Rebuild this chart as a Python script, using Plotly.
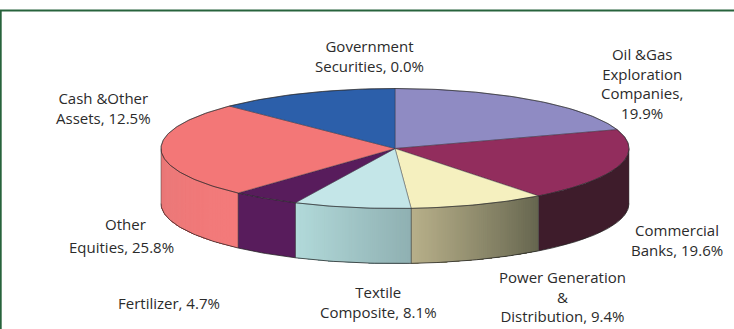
import math
import plotly.graph_objects as go

# Portfolio allocation, clockwise from twelve o'clock
sector_labels = [
    "Government<br>Securities, 0.0%",
    "Oil &Gas<br>Exploration<br>Companies,<br>19.9%",
    "Commercial<br>Banks, 19.6%",
    "Power Generation<br>&<br>Distribution, 9.4%",
    "Textile<br>Composite, 8.1%",
    "Fertilizer, 4.7%",
    "Other",
    "Equities, 25.8%",
    "Cash &Other<br>Assets, 12.5%",
]
sector_values = [0.0, 19.9, 19.6, 9.4, 8.1, 4.7, 25.8, 12.5]

label_x = [369, 642, 677, 562, 378, 169, 125, 121, 103]
label_y = [56, 83, 240, 296, 302, 303, 224, 247, 108]

top_colors = ["#2c5faa", "#8f8bc3", "#922d5d", "#f5f0bf", "#c4e6e8", "#581c5c", "#f37777", "#2c5faa"]
# Side wall colour at the left and right end of each wedge's visible wall
side_colors = [
    ("#2c5faa", "#2c5faa"),
    ("#8f8bc3", "#8f8bc3"),
    ("#3e1c2b", "#3e1c2b"),
    ("#b8b08a", "#66664f"),
    ("#b2dada", "#8fb0b2"),
    ("#581c5c", "#581c5c"),
    ("#e87878", "#f47a7a"),
    ("#2c5faa", "#2c5faa"),
]

CX, CY, RX, RY, DEPTH = 395, 148.5, 234, 60, 55
EDGE = "rgba(35,35,35,0.75)"


def rim(deg):
    t = math.radians(deg)
    return CX + RX * math.sin(t), CY - RY * math.cos(t)


def arc(a, b, step=1.0):
    n = max(2, int(abs(b - a) / step) + 1)
    return [rim(a + (b - a) * i / (n - 1)) for i in range(n)]


def mix(c1, c2, f):
    p = [int(c1[i:i + 2], 16) for i in (1, 3, 5)]
    q = [int(c2[i:i + 2], 16) for i in (1, 3, 5)]
    return "rgb({},{},{})".format(*[round(u + (v - u) * f) for u, v in zip(p, q)])


def polygon(points, fill, line_color=None, line_width=0.0):
    return go.Scatter(
        x=[p[0] for p in points], y=[p[1] for p in points],
        mode="lines", fill="toself", fillcolor=fill,
        line=dict(color=line_color or fill, width=line_width),
        hoverinfo="skip", showlegend=False,
    )


def stroke(points, color, width):
    return go.Scatter(
        x=[p[0] for p in points], y=[p[1] for p in points], mode="lines",
        line=dict(color=color, width=width), hoverinfo="skip", showlegend=False,
    )


fig = go.Figure()

# Wedge spans in degrees
spans = []
start = 0.0
for v in sector_values:
    end = start + v * 3.6
    spans.append((start, end))
    start = end

# Front wall: only the part of each wedge between 90 and 270 degrees shows
for (a, b), (c_left, c_right) in zip(spans, side_colors):
    lo, hi = max(a, 90), min(b, 270)
    if hi <= lo:
        continue
    # Flat walls take one band; shaded walls are painted as overlapping bands
    n = 1 if c_left == c_right else max(4, int((hi - lo) * 2))
    for i in range(n):
        seg = arc(lo + (hi - lo) * i / n, hi, 0.5)
        pts = seg + [(x, y + DEPTH) for x, y in reversed(seg)]
        fig.add_trace(polygon(pts, mix(c_right, c_left, (i + 0.5) / n)))
    seg = arc(lo, hi, 1.0)
    for x, y in (seg[0], seg[-1]):
        fig.add_trace(stroke([(x, y), (x, y + DEPTH)], "rgba(60,60,60,0.6)", 0.8))
    fig.add_trace(stroke([(x, y + DEPTH) for x, y in seg], EDGE, 1))

# Top face of each wedge
for (a, b), color in zip(spans, top_colors):
    if b - a <= 0:
        continue
    outline = arc(a, b, 1.0)
    fig.add_trace(polygon([(CX, CY)] + outline + [(CX, CY)], color, "rgba(45,45,55,0.5)", 0.8))
    fig.add_trace(stroke(outline, EDGE, 0.8))

# Category labels
for text, x, y in zip(sector_labels, label_x, label_y):
    fig.add_annotation(x=x, y=y, text=text, showarrow=False, align="center",
                       xanchor="center", yanchor="middle",
                       font=dict(family="Open Sans", size=15, color="#2b2b2b"))

# Dark green frame along the top and left
for (x0, y0, x1, y1) in [(0, 10.5, 734, 10.5), (0.7, 10, 0.7, 329)]:
    fig.add_shape(type="line", x0=x0, y0=y0, x1=x1, y1=y1,
                  line=dict(color="#27633c", width=2))

fig.update_layout(
    width=734, height=329, margin=dict(l=0, r=0, t=0, b=0),
    paper_bgcolor="white", plot_bgcolor="white", showlegend=False,
    xaxis=dict(range=[0, 734], visible=False, fixedrange=True),
    yaxis=dict(range=[329, 0], visible=False, fixedrange=True),
)
fig.write_html("out.html", config={"displayModeBar": False})
